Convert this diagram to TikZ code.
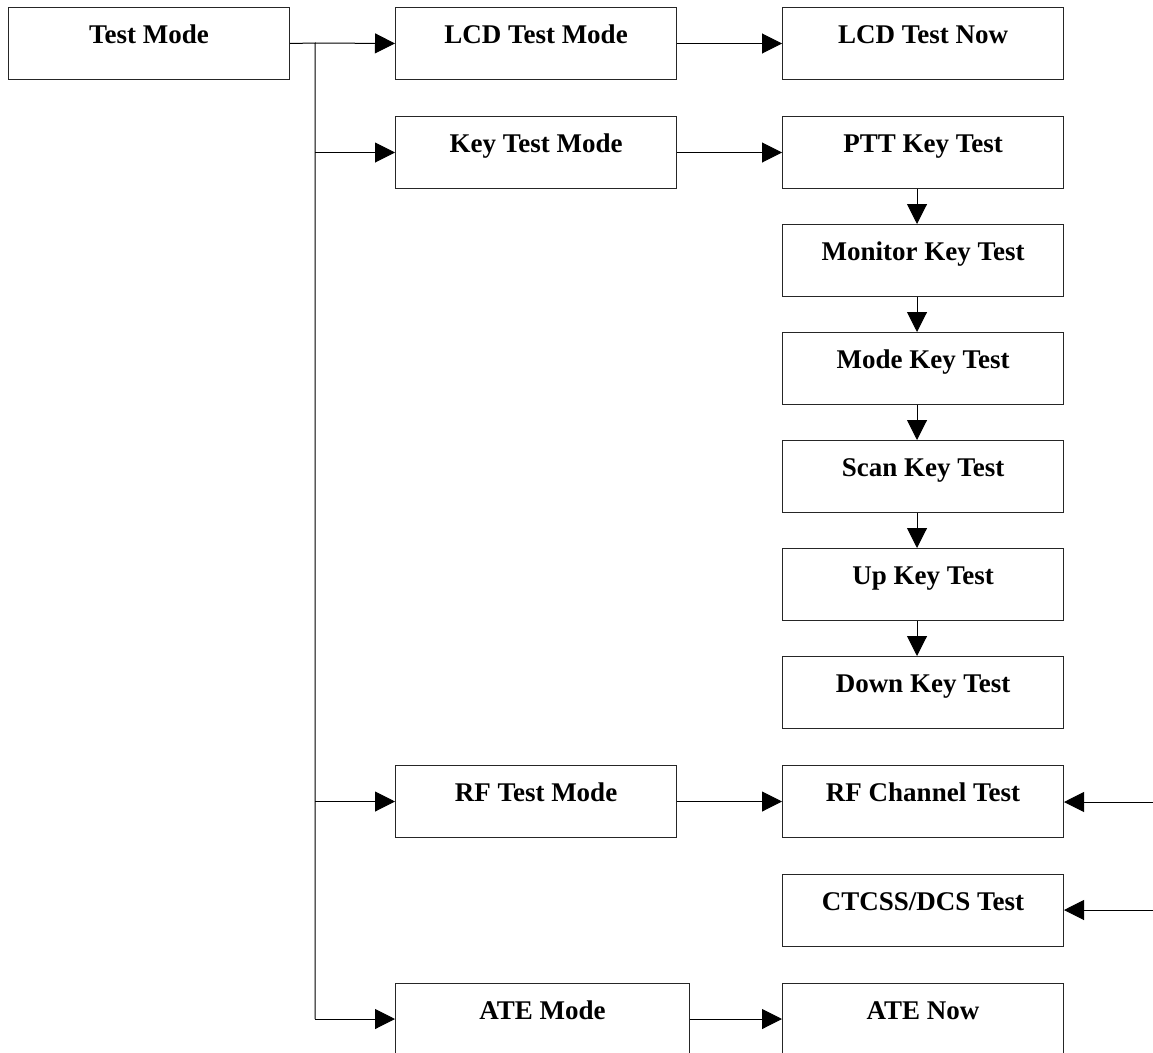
\documentclass[tikz,border=0pt]{standalone}
\usepackage{fontspec}
\setmainfont{Liberation Serif}
\usetikzlibrary{arrows.meta,calc}
\begin{document}
\begin{tikzpicture}[x=1pt,y=-1pt,
  box/.style={draw=black!85,line width=1pt,rectangle,minimum height=72pt,inner sep=0pt,anchor=north west},
  lbl/.style={font=\fontsize{27}{30}\selectfont\bfseries,anchor=base,inner sep=0pt},
  conn/.style={line width=1pt,draw=black},
  arr/.style={conn,-{Triangle[length=20pt,width=20pt]}}]
\clip (0,0) rectangle (1153,1052);
\fill[white] (0,0) rectangle (1153,1052);
% boxes
\node[box,minimum width=281pt] (tm) at (8,7) {};
\node[box,minimum width=281pt] (lcdm) at (395,7) {};
\node[box,minimum width=281pt] (lcdn) at (782,7) {};
\node[box,minimum width=281pt] (keym) at (395,116) {};
\node[box,minimum width=281pt] (ptt) at (782,116) {};
\node[box,minimum width=281pt] (mon) at (782,224) {};
\node[box,minimum width=281pt] (mode) at (782,332) {};
\node[box,minimum width=281pt] (scan) at (782,440) {};
\node[box,minimum width=281pt] (up) at (782,548) {};
\node[box,minimum width=281pt] (down) at (782,656) {};
\node[box,minimum width=281pt] (rfm) at (395,765) {};
\node[box,minimum width=281pt] (rfc) at (782,765) {};
\node[box,minimum width=281pt] (ctc) at (782,874) {};
\node[box,minimum width=294pt] (atem) at (395,983) {};
\node[box,minimum width=281pt] (aten) at (782,983) {};
% labels
\foreach \n/\t in {tm/{Test Mode},lcdm/{LCD Test Mode},lcdn/{LCD Test Now},keym/{Key Test Mode},ptt/{PTT Key Test},mon/{Monitor Key Test},mode/{Mode Key Test},scan/{Scan Key Test},up/{Up Key Test},down/{Down Key Test},rfm/{RF Test Mode},rfc/{RF Channel Test},atem/{ATE Mode},aten/{ATE Now}}
  \node[lbl] (\n-t) at ($(\n.north)+(0,36)$) {\t};
\node[lbl] (ctc-t) at ($(ctc.north)+(0,36)$) {CTCSS/DCS Test};
% trunk
\coordinate (jt) at (315,43);
\coordinate (jb) at (315,1019);
\draw[conn] (tm.east) -- (jt) -- (jb);
\draw[arr] (jt) -- (lcdm.west);
\draw[arr] (jt |- keym.west) -- (keym.west);
\draw[arr] (jt |- rfm.west) -- (rfm.west);
\draw[arr] (jb) -- (jb -| atem.west);
% horizontal
\draw[arr] (lcdm.east) -- (lcdn.west);
\draw[arr] (keym.east) -- (ptt.west);
\draw[arr] (rfm.east) -- (rfc.west);
\draw[arr] (jb -| atem.east) -- (jb -| aten.west);
% vertical chain
\foreach \a/\b in {ptt/mon,mon/mode,mode/scan,scan/up,up/down}
  \draw[arr] ($(\a.south)+(-6,0)$) -- ($(\b.north)+(-6,0)$);
% incoming from right
\coordinate (rin) at (1153,802);
\coordinate (cin) at (1153,910);
\draw[arr] (rin) -- (rin -| rfc.east);
\draw[arr] (cin) -- (cin -| ctc.east);
\end{tikzpicture}
\end{document}
